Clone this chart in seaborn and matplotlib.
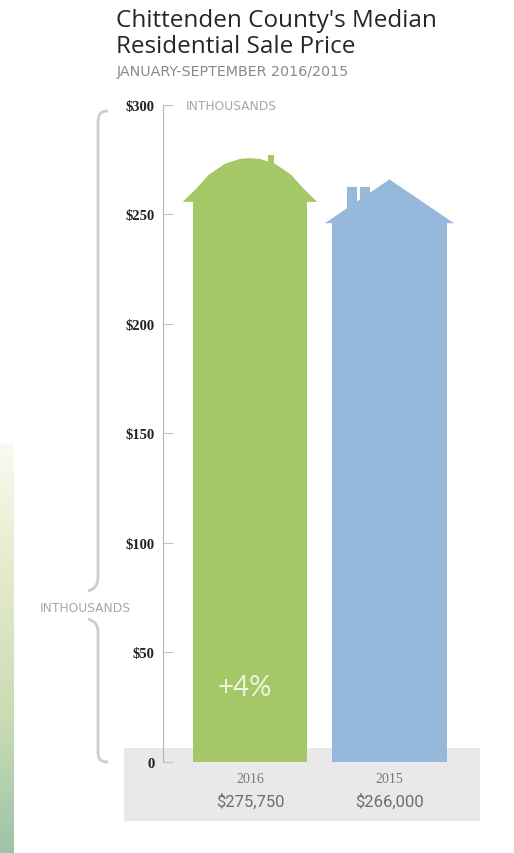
import numpy as np
import pandas as pd
import matplotlib
matplotlib.use("Agg")
import matplotlib.pyplot as plt
import seaborn as sns
from matplotlib.patches import Polygon, Rectangle, PathPatch
from matplotlib.path import Path
from matplotlib.colors import LinearSegmentedColormap

# ---- data ----
years = ["2016", "2015"]
prices = [275750, 266000]
price_labels = ["$275,750", "$266,000"]
change_label = "+4%"
ytick_values = [0, 50, 100, 150, 200, 250, 300]
ytick_labels = ["0", "$50", "$100", "$150", "$200", "$250", "$300"]
title = "Chittenden County's Median\nResidential Sale Price"
subtitle = "JANUARY-SEPTEMBER 2016/2015"
unit_label = "INTHOUSANDS"

values_k = [p / 1000 for p in prices]
df = pd.DataFrame({"year": years, "value": values_k})

GREEN = "#a5c866"
BLUE = "#96b8da"
palette = {"2016": GREEN, "2015": BLUE}

sns.set_theme(style="white")
plt.rcParams["font.family"] = ["Open Sans", "DejaVu Sans"]

W, H = 514, 854
fig = plt.figure(figsize=(W / 100, H / 100), dpi=100)
fig.patch.set_facecolor("white")

def fx(px):
    return px / W

def fy(py):
    return 1 - py / H

# main axes: x spans gray band 124..480 px ; y: 0 at 763 px, 300 at 106 px
ylo, yhi = -27, 300
ax = fig.add_axes([fx(124), fy(822), (480 - 124) / W, (822 - 106) / H])
ax.set_facecolor("none")
ax.set_axisbelow(False)

sns.barplot(data=df, x="year", y="value", hue="year", order=years,
            palette=palette, width=0.82, saturation=1, legend=False,
            ax=ax, zorder=3)
ax.set_xlim(-0.903, 1.649)
ax.set_ylim(ylo, yhi)
bar_patches = list(ax.patches)

# houses: turn bar tops into roofs
ROOF = 20.0
roof_shapes = {
    GREEN: dict(
        pts=[(-0.5, 1.0), (-0.588, 1.0), (-0.47, 0.70), (-0.36, 0.38),
             (-0.22, 0.13), (-0.09, 0.02), (0.0, 0.0), (0.09, 0.02),
             (0.22, 0.13), (0.36, 0.38), (0.47, 0.70), (0.588, 1.0), (0.5, 1.0)],
        chimneys=[(0.158, 0.21, -0.06, 0.2)]),
    BLUE: dict(
        pts=[(-0.5, 1.0), (-0.565, 1.0), (0.0, 0.0), (0.565, 1.0), (0.5, 1.0)],
        chimneys=[(-0.374, -0.287, 0.167, 0.7), (-0.261, -0.174, 0.167, 0.6)]),
}
for patch in bar_patches:
    h = patch.get_height()
    if h <= 0:
        continue
    x0, w = patch.get_x(), patch.get_width()
    cx = x0 + w / 2
    col = matplotlib.colors.to_hex(patch.get_facecolor())
    shape = roof_shapes[GREEN] if col.lower() == GREEN else roof_shapes[BLUE]
    patch.set_height(h - ROOF + 0.3)
    patch.set_edgecolor("none")
    pts = [(cx + dx * w, h - dy * ROOF) for dx, dy in shape["pts"]]
    ax.add_patch(Polygon(pts, closed=True, facecolor=col, edgecolor="none", zorder=3))
    for a, b, t, btm in shape["chimneys"]:
        ax.add_patch(Rectangle((cx + a * w, h - btm * ROOF), (b - a) * w,
                               (btm - t) * ROOF, facecolor=col, edgecolor="none", zorder=3))

# gray band behind bars
ax.axhspan(ylo, 6.4, color="#e9e9eb", zorder=0.2, lw=0)

# axes styling
for s in ["top", "right", "bottom"]:
    ax.spines[s].set_visible(False)
ax.spines["left"].set_position(("data", -0.624))
ax.spines["left"].set_bounds(0, 300)
ax.spines["left"].set_color("#b4b4b4")
ax.spines["left"].set_linewidth(0.8)
ax.set_yticks(ytick_values)
ax.set_yticklabels(ytick_labels, fontfamily=["Liberation Serif", "DejaVu Serif"],
                   fontweight="bold", fontsize=10.5, color="#222222")
ax.tick_params(axis="y", direction="in", length=7, width=0.8, color="#c4c4c4", pad=6, left=True)
ax.set_xticks([])
ax.set_xlabel("")
ax.set_ylabel("")

# labels under bars
for i, (yr, pl) in enumerate(zip(years, price_labels)):
    ax.text(i, -7.8, yr, ha="center", va="center", fontsize=10,
            fontfamily=["Liberation Serif", "DejaVu Serif"], color="#7a7a7a", zorder=5)
    ax.text(i, -17.6, pl, ha="center", va="center", fontsize=12,
            fontfamily=["Roboto", "DejaVu Sans"], color="#6e6e6e", zorder=5)

ax.text(-0.04, 34, change_label, ha="center", va="center", fontsize=20,
        fontfamily=["Lato", "DejaVu Sans"], color="#eef5dd", zorder=5)

# unit labels
fig.text(fx(186), fy(106), unit_label, ha="left", va="center", fontsize=8.8,
         fontfamily=["DejaVu Sans"], color="#a8a8a8")
fig.text(fx(40), fy(608), unit_label, ha="left", va="center", fontsize=8.8,
         fontfamily=["DejaVu Sans"], color="#a8a8a8")

# curly brace
def P(x, y):
    return (fx(x), fy(y))

codes = [Path.MOVETO, Path.CURVE4, Path.CURVE4, Path.CURVE4, Path.LINETO,
         Path.CURVE4, Path.CURVE4, Path.CURVE4]
verts = [P(108, 112), P(100, 112), P(98, 116), P(98, 124), P(98, 576),
         P(98, 586), P(95, 590), P(88, 592)]
fig.add_artist(PathPatch(Path(verts, codes), transform=fig.transFigure,
                         facecolor="none", edgecolor="#cdcdcd", lw=2.0))
verts2 = [P(88, 620), P(95, 622), P(98, 626), P(98, 634), P(98, 752),
          P(98, 760), P(100, 763), P(108, 763)]
fig.add_artist(PathPatch(Path(verts2, codes), transform=fig.transFigure,
                         facecolor="none", edgecolor="#cdcdcd", lw=2.0))

# title and subtitle
fig.text(fx(116), fy(9), title, ha="left", va="top", fontsize=17.5,
         color="#262626", linespacing=1.12)
fig.text(fx(117), fy(72), subtitle, ha="left", va="center", fontsize=10.3,
         fontfamily=["DejaVu Sans"], color="#8a8a8a")

# left gradient strip
gax = fig.add_axes([0, 0, fx(14), (854 - 445) / H])
cmap = LinearSegmentedColormap.from_list("g", ["#fbfaf0", "#e4e9c8", "#c9dcb4", "#9ec3a9"])
grad = np.linspace(0, 1, 256).reshape(-1, 1)
gax.imshow(grad, aspect="auto", cmap=cmap, origin="upper")
gax.axis("off")

fig.savefig("out.png", dpi=100)
